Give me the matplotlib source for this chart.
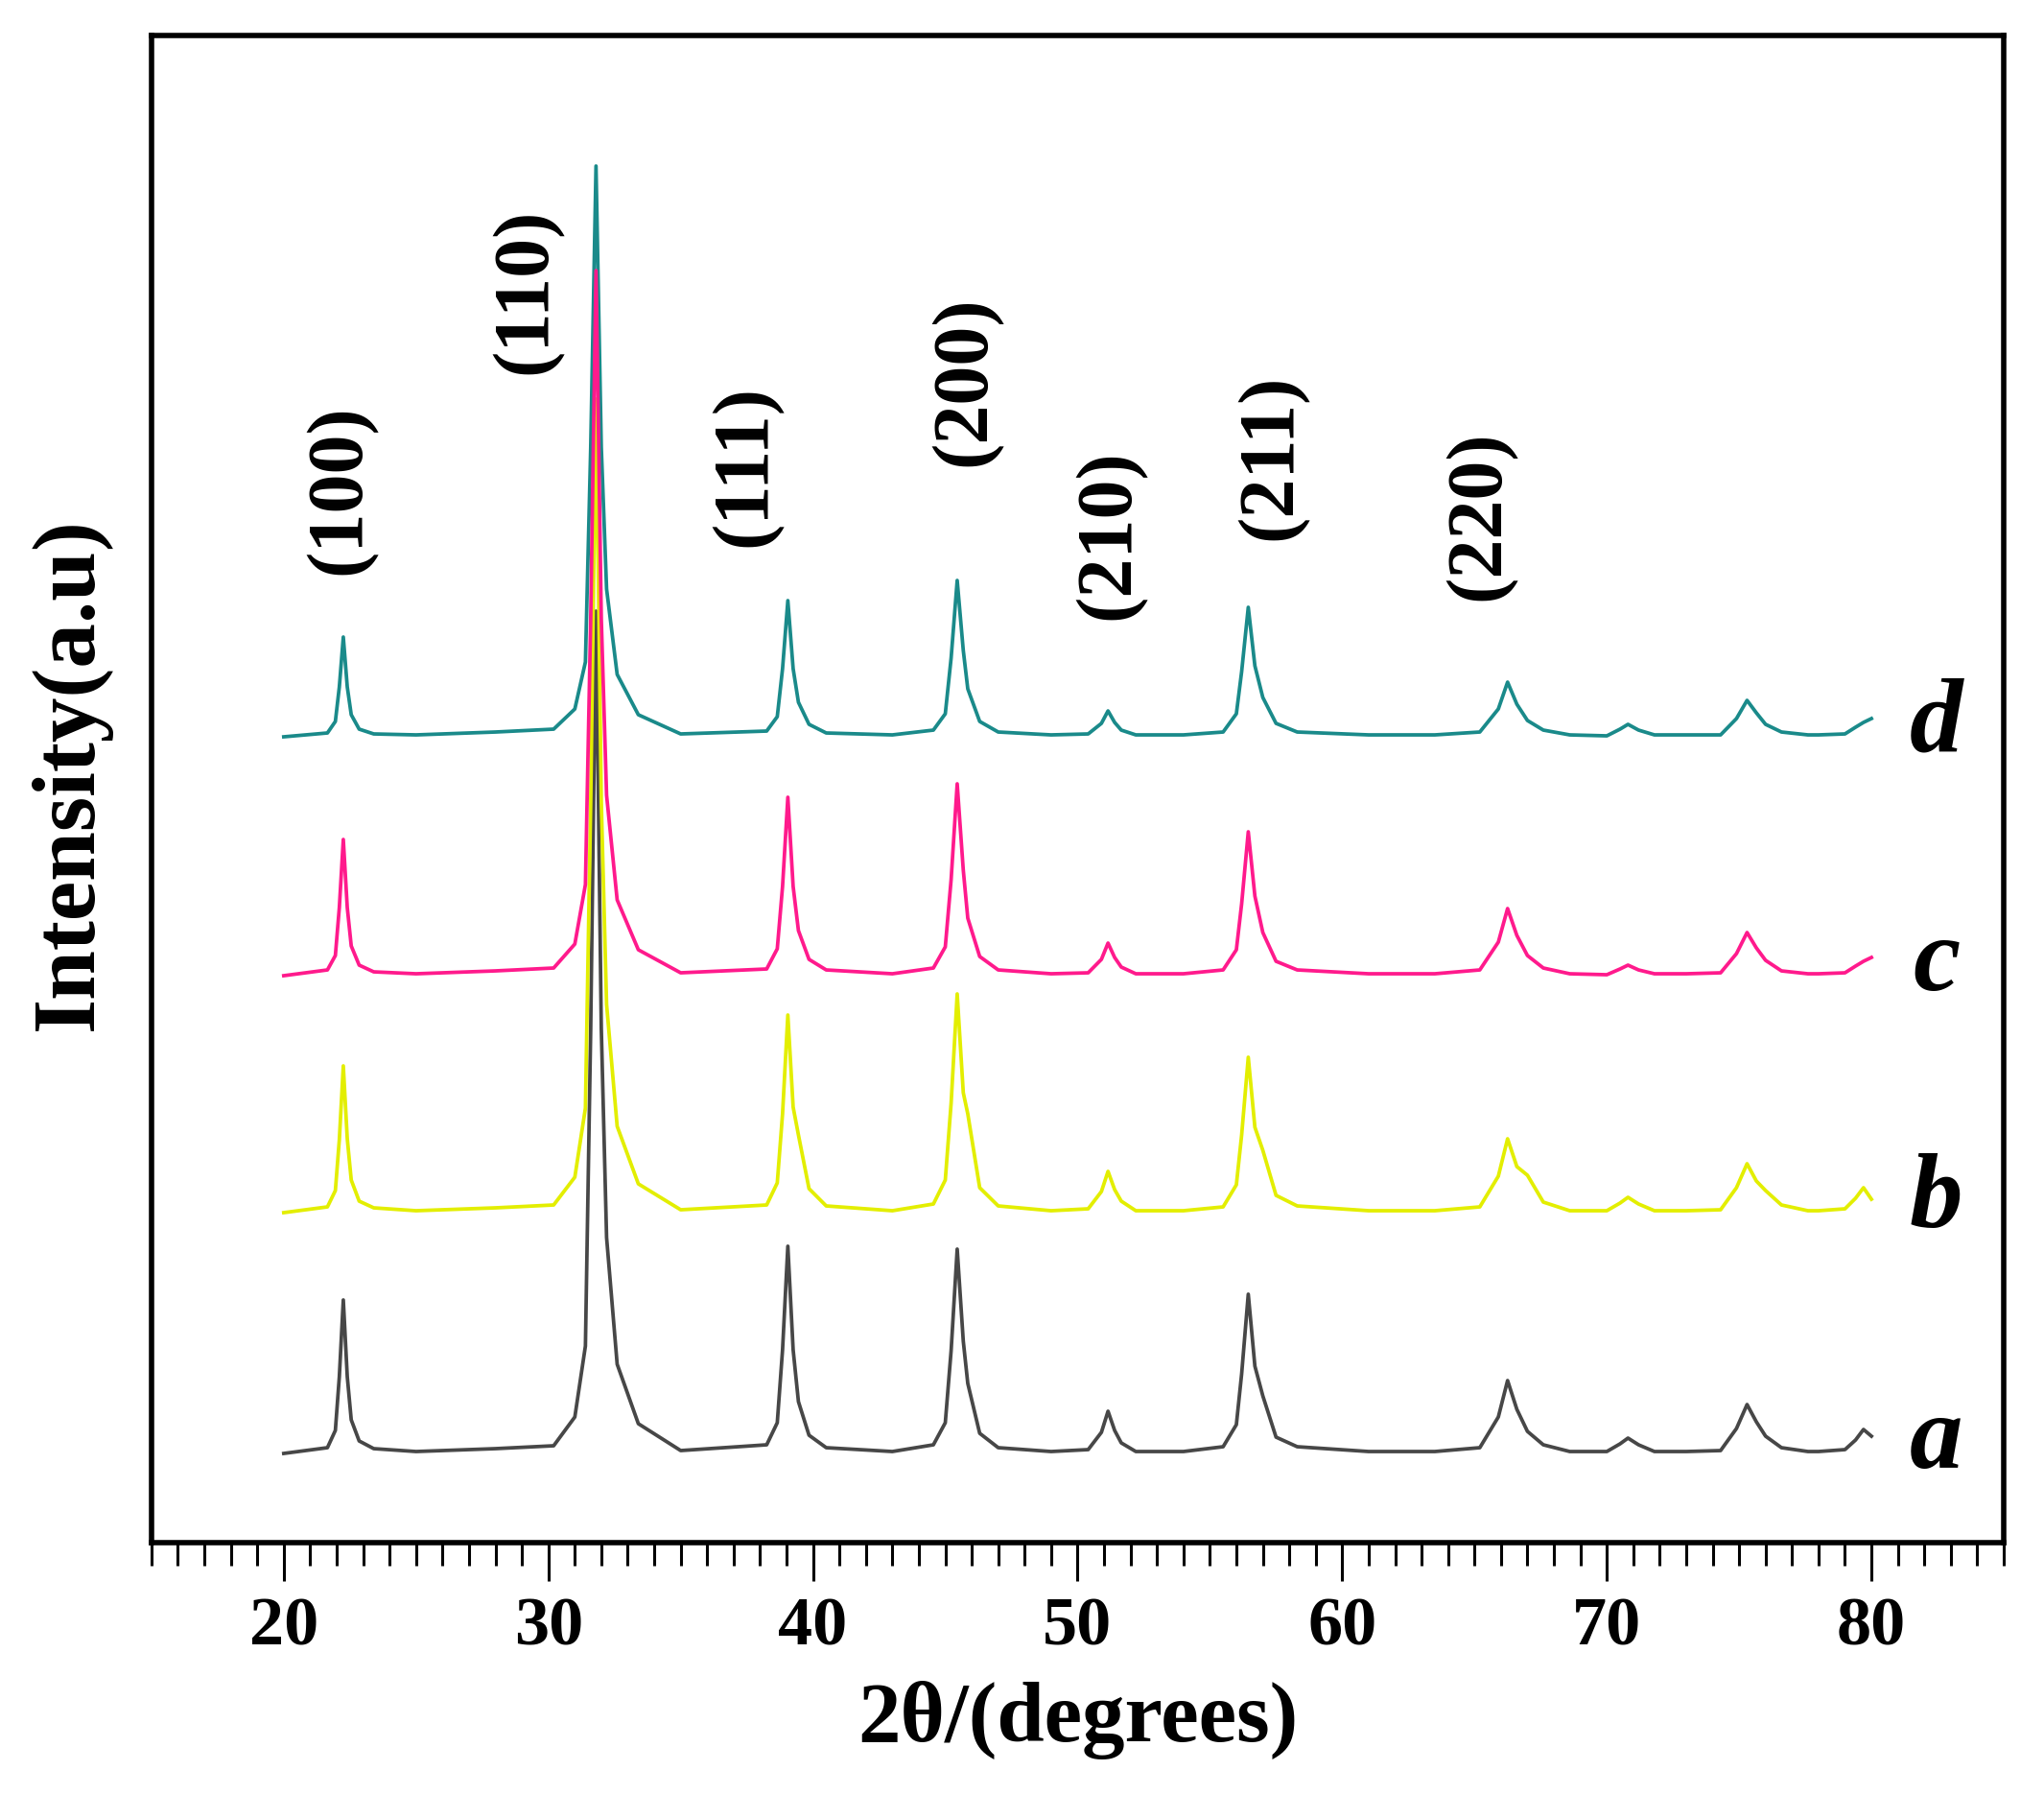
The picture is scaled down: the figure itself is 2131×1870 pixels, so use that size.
import matplotlib
matplotlib.use("Agg")
import matplotlib.pyplot as plt
from matplotlib.ticker import MultipleLocator

plt.rcParams['font.family'] = ['Liberation Serif', 'DejaVu Serif']

# 2theta vertices (shared by the four samples)
two_theta = [20.0, 21.65, 21.95, 22.1, 22.25, 22.4, 22.55, 22.85, 23.4,
             25.0, 28.0, 30.2,
             31.0, 31.4, 31.6, 31.8, 32.0, 32.2, 32.6, 33.4,
             35.0,
             38.25, 38.65, 38.85, 39.05, 39.25, 39.45, 39.85, 40.5,
             43.0,
             44.55, 45.0, 45.22, 45.45, 45.68, 45.85, 46.3, 47.0,
             49.0,
             50.4, 50.9, 51.15, 51.4, 51.65, 52.2,
             54.0,
             55.5, 56.0, 56.2, 56.45, 56.7, 57.0, 57.5, 58.3,
             61.0, 63.5,
             65.2, 65.9, 66.25, 66.6, 67.0, 67.6, 68.6,
             70.0, 70.5, 70.8, 71.2, 71.8,
             73.0,
             74.3, 74.9, 75.3, 75.65, 76.0, 76.6, 77.6,
             78.0, 79.0, 79.4, 79.7, 80.0]

# intensities (a.u.) above each pattern's own baseline
int_a = [0, 6, 24, 80, 160, 80, 35, 13, 5,
         2, 5, 8,
         38, 112, 443, 878, 443, 225, 93, 31,
         3,
         9, 32, 108, 216, 108, 54, 19, 6,
         2,
         9, 32, 107, 213, 117, 73, 21, 6,
         2,
         4, 22, 44, 24, 11, 2,
         2,
         7, 30, 83, 166, 91, 60, 17, 7,
         2, 2,
         6, 38, 76, 46, 23, 9, 2,
         2, 10, 16, 9, 2,
         2,
         3, 26, 51, 33, 18, 6, 2,
         2, 4, 14, 25, 18]
int_b = [0, 6, 23, 76, 153, 77, 34, 12, 5,
         2, 5, 8,
         37, 109, 428, 848, 428, 217, 90, 30,
         3,
         8, 31, 103, 206, 110, 81, 25, 7,
         2,
         9, 34, 114, 228, 125, 103, 26, 7,
         2,
         4, 22, 43, 24, 12, 2,
         2,
         6, 29, 81, 162, 89, 65, 18, 7,
         2, 2,
         6, 38, 77, 48, 39, 11, 2,
         2, 10, 16, 9, 2,
         2,
         3, 26, 51, 33, 23, 8, 2,
         2, 4, 15, 26, 14]
int_c = [0, 6, 21, 71, 142, 71, 31, 11, 4,
         2, 5, 8,
         33, 95, 372, 735, 372, 188, 79, 27,
         3,
         7, 28, 93, 186, 93, 47, 17, 6,
         2,
         8, 30, 100, 200, 110, 60, 20, 6,
         2,
         3, 17, 34, 19, 9, 2,
         2,
         6, 27, 75, 150, 83, 45, 15, 6,
         2, 2,
         6, 35, 70, 42, 21, 8, 2,
         1, 7, 11, 6, 2,
         2,
         3, 23, 45, 29, 16, 5, 2,
         2, 3, 10, 15, 19]
int_d = [0, 4, 16, 52, 104, 52, 23, 8, 3,
         2, 5, 8,
         29, 78, 302, 595, 302, 154, 65, 23,
         3,
         6, 21, 71, 142, 71, 36, 13, 4,
         2,
         7, 24, 82, 163, 90, 50, 16, 5,
         2,
         3, 14, 27, 15, 7, 2,
         2,
         5, 24, 68, 135, 74, 41, 14, 5,
         2, 2,
         5, 29, 57, 34, 17, 7, 2,
         1, 8, 13, 7, 2,
         2,
         2, 19, 38, 25, 13, 5, 2,
         2, 3, 10, 15, 19]

sample_names = ['a', 'b', 'c', 'd']
offsets = {'a': 93, 'b': 344, 'c': 591, 'd': 840}
colors = {'a': '#474747', 'b': '#e3ee00', 'c': '#ff1a8c', 'd': '#1a8a8a'}
patterns = {'a': int_a, 'b': int_b, 'c': int_c, 'd': int_d}

hkl = ['(100)', '(110)', '(111)', '(200)', '(210)', '(211)', '(220)']
hkl_x = [22.17, 29.2, 37.49, 45.78, 51.21, 57.36, 65.22]
hkl_y = [1098, 1305, 1123, 1211, 1051, 1132, 1071]

fig = plt.figure(figsize=(21.31, 18.70), dpi=100)
ax = fig.add_axes([0.0741, 0.1401, 0.9062, 0.8401])

for name in ['d', 'a', 'b', 'c']:
    y = [v + offsets[name] for v in patterns[name]]
    ax.plot(two_theta, y, color=colors[name], lw=2.7, solid_joinstyle='round')

for name in sample_names:
    ax.text(82.45, offsets[name] - 38, name, fontsize=80, fontweight='bold',
            fontstyle='italic', ha='center', va='bottom')

for lab, x, y in zip(hkl, hkl_x, hkl_y):
    ax.text(x, y, lab, rotation=90, fontsize=59, fontweight='bold',
            ha='center', va='center')

ax.set_xlim(15, 85)
ax.set_ylim(0, 1571)
ax.xaxis.set_major_locator(MultipleLocator(10))
ax.xaxis.set_minor_locator(MultipleLocator(1))
ax.set_xticks([20, 30, 40, 50, 60, 70, 80])
ax.tick_params(axis='x', which='major', direction='out', length=29, width=2.2,
               labelsize=52, pad=12)
ax.tick_params(axis='x', which='minor', direction='out', length=17, width=2.2)
for lbl in ax.get_xticklabels():
    lbl.set_fontweight('bold')
ax.set_yticks([])
for sp in ax.spines.values():
    sp.set_linewidth(4)

ax.set_xlabel('2θ/(degrees)', fontsize=64, fontweight='bold', labelpad=16)
ax.set_ylabel('Intensity(a.u)', fontsize=67, fontweight='bold')
ax.yaxis.set_label_coords(-0.022, 0.51)

fig.savefig('out.png', dpi=100)
